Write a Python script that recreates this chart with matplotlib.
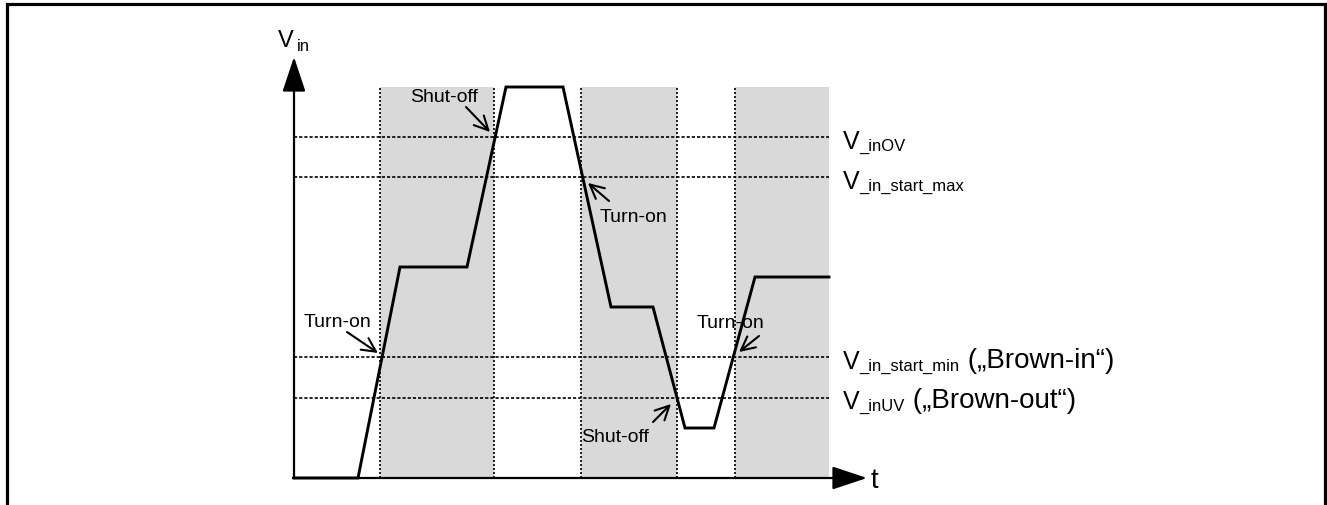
import matplotlib
matplotlib.use("Agg")
import matplotlib.pyplot as plt
from matplotlib.patches import Rectangle

plt.rcParams['font.family'] = ['Liberation Sans', 'DejaVu Sans']

# Verlauf der Eingangsspannung (t, V) in Bildeinheiten
t_wave = [0, 64, 106, 173, 212, 269, 317, 359, 391, 420, 461, 535]
v_wave = [0, 0, 211, 211, 391, 391, 171, 171, 50, 50, 201, 201]

# Schwellen
thr_values = [341, 301, 121, 80]
thr_labels = [
    [("V", 18), ("_inOV", 12)],
    [("V", 18), ("_in_start_max", 12)],
    [("V", 18), ("_in_start_min", 12), (" (\u201eBrown-in\u201c)", 20)],
    [("V", 18), ("_inUV", 12), (" (\u201eBrown-out\u201c)", 20)],
]
thr_baseline = [330, 290, 110, 70]

# graue Bereiche (Abschaltung aktiv)
gray_spans = [(86, 200), (287, 383), (441, 535)]
gray_top = 391
vlines_t = [86, 200, 287, 383, 441]

# Beschriftungen mit Pfeil: Text, Textposition, Pfeilanfang, Pfeilspitze
notes = [
    ("Turn-on", (10, 152), (53, 146), (84, 125)),
    ("Shut-off", (116, 377), (172, 371), (196, 346)),
    ("Turn-on", (306, 257), (315, 277), (294, 295)),
    ("Shut-off", (287, 37), (359, 56), (377, 74)),
    ("Turn-on", (403, 151), (465, 142), (445, 126)),
]

fig = plt.figure(figsize=(13.27, 5.06), dpi=100)
ax = fig.add_axes([0, 0, 1, 1])
ax.set_xlim(-294, 1033)
ax.set_ylim(-27, 479)
ax.axis('off')

# Rahmen
ax.add_patch(Rectangle((-287, -80), 1318, 554, fill=False, lw=2.3,
                       edgecolor='black', clip_on=False))

for a, b in gray_spans:
    ax.fill_between([a, b], 0, gray_top, color='#d9d9d9', lw=0, zorder=1)

ax.vlines(vlines_t, 0, gray_top, colors='black', lw=1.2,
          linestyles=(0, (1.2, 1.2)), zorder=2)
ax.hlines(thr_values, 0, 535, colors='black', lw=1.2,
          linestyles=(0, (1.9, 1.2)), zorder=2)

ax.plot(t_wave, v_wave, color='black', lw=2.1, zorder=4,
        solid_joinstyle='miter')

# Achsen mit Pfeilen
arrow_style = '-|>,head_length=1.08,head_width=0.36'
ax.annotate('', xy=(0, 421), xytext=(0, 0),
            arrowprops=dict(arrowstyle=arrow_style, mutation_scale=20,
                            lw=1.6, color='black', shrinkA=0, shrinkB=0),
            zorder=5)
ax.annotate('', xy=(573, 0), xytext=(-1, 0),
            arrowprops=dict(arrowstyle=arrow_style, mutation_scale=20,
                            lw=1.6, color='black', shrinkA=0, shrinkB=0),
            zorder=5)

v_in = ax.text(-16, 432, "V", fontsize=17, va='baseline')
ax.annotate("in", xy=(1, 0), xycoords=v_in, xytext=(2, -1.5),
            textcoords='offset points', fontsize=12, va='bottom')
ax.text(577, -9, "t", fontsize=20, va='baseline')


def chain_label(x, y, parts):
    prev = ax.text(x, y, parts[0][0], fontsize=parts[0][1], va='baseline')
    for txt, size in parts[1:]:
        prev = ax.annotate(txt, xy=(1, 0), xycoords=prev, fontsize=size,
                           va='bottom', ha='left')


for parts, base in zip(thr_labels, thr_baseline):
    chain_label(549, base, parts)

for txt, pos, tail, head in notes:
    ax.text(pos[0], pos[1], txt, fontsize=14, va='baseline')
    ax.annotate('', xy=head, xytext=tail,
                arrowprops=dict(arrowstyle='->,head_length=0.5,head_width=0.25',
                                mutation_scale=20, lw=1.5, color='black',
                                shrinkA=0, shrinkB=0))

fig.savefig('out.png', dpi=100)
